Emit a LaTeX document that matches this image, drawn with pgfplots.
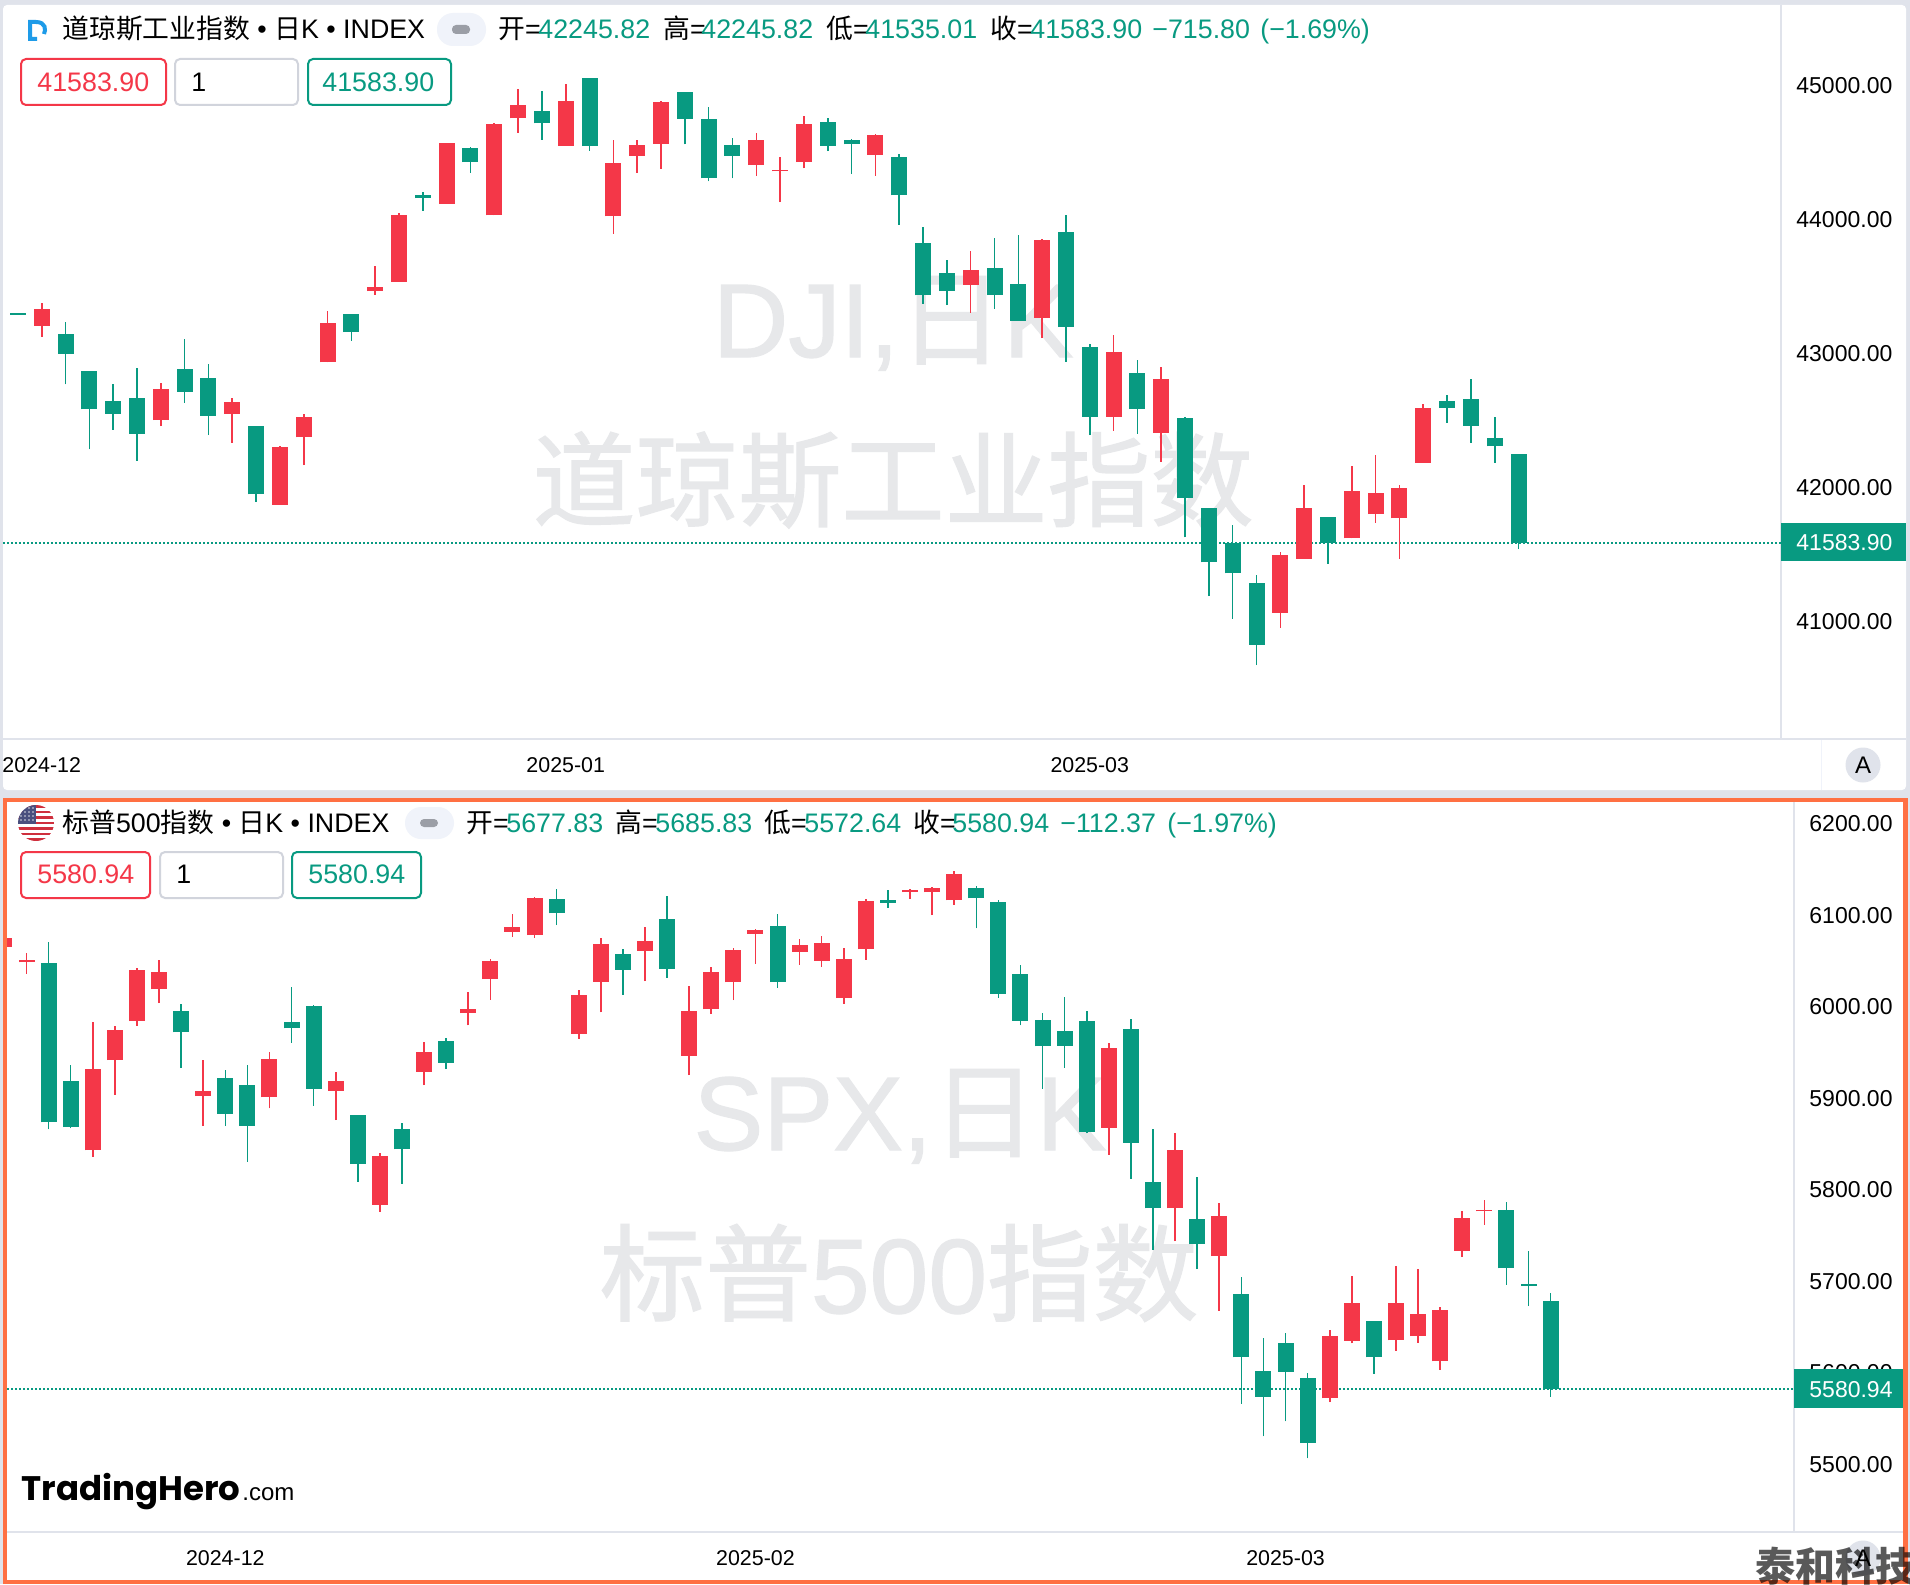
\documentclass[border=0pt]{standalone}
\usepackage{fontspec}
\usepackage{pgfplots}
\usepackage{pgfplotstable}
\pgfplotsset{compat=1.18}
\setmainfont{Liberation Sans}
\newfontfamily\cjk{Noto Sans CJK SC}
\newfontfamily\logofont{Poppins}
\newfontfamily\wm[FakeBold=1.2]{Liberation Sans}
\newfontfamily\wmcjk[FakeBold=1.2]{Noto Sans CJK SC}

\definecolor{cgreen}{HTML}{089A81}
\definecolor{cred}{HTML}{F43748}
\definecolor{paneline}{HTML}{E0E3EB}
\definecolor{boxgray}{HTML}{D1D4DC}
\definecolor{pillbg}{HTML}{F0F3FA}
\definecolor{pilldash}{HTML}{9B9EA6}
\definecolor{wmark}{HTML}{E7E8EA}
\definecolor{orangeb}{HTML}{FF7043}
\definecolor{dlogo}{HTML}{1E9BE8}
\definecolor{flagblue}{HTML}{4A4F7E}

% DJI: x open high low close
\pgfplotstableread{
x o h l c
0 43298 43298 43285 43285
2 43143 43231 42765 42994
3 42865 42865 42280 42579
4 42638 42768 42425 42546
5 42661 42885 42196 42395
7 42882 43101 42629 42711
8 42810 42915 42387 42531
10 42454 42454 41890 41944
14 43288 43288 43089 43156
17 44178 44203 44062 44156
19 44529 44539 44343 44425
22 44808 44955 44591 44713
24 45052 45052 44509 44544
28 44947 44947 44557 44748
29 44746 44833 44280 44303
30 44552 44601 44303 44470
34 44721 44753 44507 44547
35 44591 44596 44335 44557
37 44462 44484 43955 44176
38 43820 43940 43367 43430
39 43599 43693 43357 43462
41 43636 43858 43328 43432
42 43517 43880 43240 43240
44 43902 44029 42934 43193
45 43041 43064 42387 42524
47 42850 42947 42395 42581
49 42512 42524 41623 41914
50 41840 41840 41185 41437
51 41579 41715 41014 41355
52 41283 41345 40670 40820
55 41775 41775 41427 41583
60 42641 42683 42479 42591
61 42656 42805 42330 42457
62 42367 42524 42181 42303
63 42245.82 42245.82 41535.01 41583.90
}\djidown
\pgfplotstableread{
x o h l c
1 43203 43370 43121 43325
6 42499 42773 42454 42730
9 42546 42661 42330 42636
11 41865 42307 41865 42300
12 42370 42544 42163 42519
13 42929 43310 42929 43221
15 43462 43649 43435 43489
16 43532 44042 43532 44027
18 44114 44564 44114 44564
20 44027 44716 44027 44711
21 44751 44967 44644 44848
23 44547 45004 44547 44880
25 44019 44589 43890 44420
26 44470 44589 44345 44554
27 44562 44880 44375 44870
31 44402 44639 44323 44589
32 44355 44460 44126 44368
33 44425 44766 44378 44708
36 44480 44631 44323 44626
40 43509 43760 43298 43621
43 43263 43850 43111 43843
46 42524 43131 42419 43007
48 42405 42892 42188 42805
53 41061 41514 40947 41491
54 41464 42014 41464 41845
56 41616 42156 41616 41969
57 41797 42240 41733 41957
58 41765 42014 41462 41989
59 42181 42618 42181 42586
}\djiup
% SPX
\pgfplotstableread{
x o h l c
2 6047.3 6070.3 5865.1 5872.8
3 5918 5935.5 5866.2 5867.7
8 5994.1 6002.2 5932.2 5971.2
10 5921.3 5929.6 5868.8 5882.3
11 5913.6 5935.5 5829.8 5869.2
13 5982.5 6021.1 5959.9 5975.6
14 6000 6001.1 5891 5909.6
16 5880.4 5880.4 5807.9 5827.2
18 5865.1 5871.7 5805.7 5843.3
20 5962.1 5964.6 5931.1 5937.7
25 6116.6 6127.5 6088.5 6101.3
28 6056.8 6062.3 6012.4 6039.7
30 6095.1 6120.2 6030.9 6040.8
35 6087.1 6100.5 6020 6026.2
40 6115.5 6127.1 6107.5 6112.9
44 6129 6131.2 6084.9 6117.7
45 6114 6115.5 6009.1 6013.5
46 6034.6 6044.4 5978.8 5983.9
47 5984.7 5992.3 5909.6 5955.9
48 5973 6009.8 5932.6 5956.6
49 5983.6 5994.1 5860.8 5861.9
51 5974.8 5986.1 5811.2 5850.6
52 5807.2 5865.9 5733.2 5778.8
54 5766.8 5813 5712.5 5739.4
56 5684.8 5703.3 5565.2 5615.9
57 5601.3 5637 5529.5 5572.9
58 5631.2 5642.9 5545.9 5600.2
59 5592.9 5598.4 5505.5 5522.2
62 5655.3 5655.3 5598 5615.9
68 5776.6 5785.7 5695.3 5713.2
69 5695.7 5732.1 5672 5694.2
70 5677.83 5685.83 5572.64 5580.94
}\spxdown
\pgfplotstableread{
x o h l c
0 6064.1 6073.9 6061.2 6073.9
1 6047.7 6057.5 6035.3 6050.6
4 5842.2 5982.5 5835.3 5930.7
5 5940.9 5977.7 5903 5973.7
6 5983.6 6041.2 5978.5 6039.7
7 6018.2 6049.9 6003.2 6037.1
9 5901.6 5940.6 5869.2 5906.7
12 5900.1 5949.3 5888.1 5942.4
15 5907.4 5927.8 5875.3 5918.3
17 5782.8 5838.9 5775.1 5836
19 5928.2 5960.2 5913.6 5949.7
21 5992.3 6014.9 5978.8 5996.7
22 6029.5 6051.3 6006.9 6048.8
23 6081.2 6100.2 6075.8 6086
24 6077.6 6119.5 6074.7 6118.4
26 5969.4 6017.1 5964.3 6012
27 6026.6 6073.9 5993 6067.4
29 6060.5 6086.3 6027.3 6070.7
31 5945.7 6022.2 5924.5 5994.5
32 5996.3 6042.6 5991.6 6037.5
33 6025.8 6063 6006.5 6061.2
34 6079 6083.8 6046.2 6083.1
36 6059.4 6072.8 6045.2 6066.3
37 6049.5 6076.5 6043 6068.5
38 6008.7 6063 6002.2 6051.7
39 6061.9 6116.9 6050.3 6114.8
41 6124.6 6127.5 6117.3 6126.8
42 6124.2 6130.1 6099.4 6129.3
43 6115.5 6147.6 6110.7 6143.9
50 5867 5959.2 5837.5 5954.4
53 5778.8 5860.8 5743.1 5842.5
55 5726.7 5784.2 5666.9 5770.8
60 5571.1 5645.8 5567.1 5639.2
61 5634.1 5704.4 5631.2 5675.7
63 5634.5 5716.1 5623.2 5675.7
64 5639.2 5712.1 5631.9 5663.3
65 5611.5 5671.3 5602.4 5667.6
66 5732.5 5775.5 5725.9 5767.8
67 5775.5 5787.9 5760.9 5777
}\spxup

\pgfplotsset{
  candlepane/.style={
    scale only axis, anchor=south west,
    axis line style={draw=none}, tick style={draw=none}, major tick length=0pt,
    yticklabel pos=right, xtick pos=bottom, scaled ticks=false,
    xticklabel style={inner sep=0pt, yshift=-9pt, font=\fontsize{10.7pt}{12pt}\selectfont},
    yticklabel style={inner sep=0pt, xshift=7.5pt, yshift=-0.5pt, font=\fontsize{11.5pt}{13pt}\selectfont,
      /pgf/number format/fixed, /pgf/number format/zerofill,
      /pgf/number format/precision=2, /pgf/number format/1000 sep={},
      /pgf/number format/assume math mode=true},
  },
  wick/.style={draw=none, mark=none, error bars/.cd, y dir=plus, y explicit, error mark=none,
    error bar style={draw=#1, solid, line width=0.8pt}},
  body/.style={draw=none, mark=none, error bars/.cd, y dir=plus, y explicit, error mark=none,
    error bar style={draw=#1, solid, line width=8pt}},
}
% wicks first, then bodies
\newcommand{\candles}[2]{
  \addplot[wick=cgreen] table[x=x, y=l, y error plus expr=\thisrow{h}-\thisrow{l}] {#1};
  \addplot[wick=cred] table[x=x, y=l, y error plus expr=\thisrow{h}-\thisrow{l}] {#2};
  \addplot[body=cgreen] table[x=x, y=c, y error plus expr=\thisrow{o}-\thisrow{c}] {#1};
  \addplot[body=cred] table[x=x, y=o, y error plus expr=\thisrow{c}-\thisrow{o}] {#2};
}
\newcommand{\hdr}{\fontsize{13.4pt}{15pt}\selectfont}
\tikzset{
  t/.style={inner sep=0pt, anchor=base west, font=\hdr},
  g/.style={t, text=cgreen},
  pricebox/.style={rounded corners=2.5pt, line width=1pt, fill=white},
  lastline/.style={cgreen, line width=0.9pt, dash pattern=on 1.1pt off 0.9pt},
}

\begin{document}
\begin{tikzpicture}[x=0.5pt, y=-0.5pt]
\useasboundingbox (0,0) rectangle (1910,1584);
\clip (0,0) rectangle (1910,1584);
\fill[paneline] (0,0) rectangle (1910,1584);
% upper pane
\fill[white, rounded corners=2pt] (3,5) rectangle (1906,790);
\draw[paneline, line width=1pt] (3,739) -- (1906,739);
\draw[paneline, line width=1pt] (1781,5) -- (1781,739);
\draw[pillbg, line width=0.5pt] (1821,740) -- (1821,790);
\node[font=\fontsize{52.3pt}{55pt}\wm, text=wmark, anchor=base, inner sep=0pt] at (893,357) {DJI,{\wmcjk 日}K};
\node[font=\fontsize{51.5pt}{55pt}\wmcjk, text=wmark, anchor=center, inner sep=0pt] at (893,480) {道琼斯工业指数};
% lower pane
\fill[orangeb] (3,798) rectangle (1908,1584);
\fill[white] (7,802) rectangle (1903,1580);
\draw[paneline, line width=1pt] (7,1532) -- (1903,1532);
\draw[paneline, line width=1pt] (1794,802) -- (1794,1532);
\node[font=\fontsize{52.3pt}{55pt}\wm, text=wmark, anchor=base, inner sep=0pt] at (900,1150) {SPX,{\wmcjk 日}K};
\node[font=\fontsize{52.8pt}{55pt}\wm, text=wmark, anchor=base, inner sep=0pt] at (899,1313) {{\wmcjk 标普}500{\wmcjk 指数}};

\begin{axis}[candlepane, at={(1.5pt,-369.5pt)}, width=889pt, height=367pt,
  xmin=-0.626, xmax=74.02, ymin=40118, ymax=45597,
  xtick={1,23,45}, xticklabels={2024-12,2025-01,2025-03},
  ytick={41000,42000,43000,44000,45000}]
  \addplot[lastline] coordinates {(-0.626,41583.9) (74.02,41583.9)};
  \candles{\djidown}{\djiup}
\end{axis}

\begin{axis}[candlepane, at={(3.5pt,-766pt)}, width=893.5pt, height=365pt,
  xmin=0.117, xmax=81.02, ymin=5425, ymax=6223,
  xtick={10,34,58}, xticklabels={2024-12,2025-02,2025-03},
  ytick={5500,5600,5700,5800,5900,6000,6100,6200}]
  \addplot[lastline] coordinates {(0.117,5580.94) (81.02,5580.94)};
  \candles{\spxdown}{\spxup}
\end{axis}

% upper header
\draw[dlogo, line width=2pt] (37,39) -- (30,39) -- (30,22) -- (36,22) .. controls (46,22) and (46,30) .. (44,34);
\node[t] at (62,39) {{\cjk 道琼斯工业指数} • {\cjk 日}K • INDEX};
\fill[pillbg, rounded corners=8pt] (437,13) rectangle (486,46);
\fill[pilldash, rounded corners=2pt] (452,25) rectangle (470,34);
\node[t] at (498,39) {{\cjk 开}=}; \node[g] at (538,39) {42245.82};
\node[t] at (663,39) {{\cjk 高}=}; \node[g] at (701,39) {42245.82};
\node[t] at (826,39) {{\cjk 低}=}; \node[g] at (865,39) {41535.01};
\node[t] at (990,39) {{\cjk 收}=}; \node[g] at (1030,39) {41583.90};
\node[g] at (1152,39) {−715.80}; \node[g] at (1260,39) {(−1.69\%)};
\draw[pricebox, draw=cred] (21,59) rectangle (166,105);
\node[t, text=cred] at (37,91) {41583.90};
\draw[pricebox, draw=boxgray] (175,59) rectangle (298,105);
\node[t] at (191,91) {1};
\draw[pricebox, draw=cgreen] (308,59) rectangle (451,105);
\node[t, text=cgreen] at (322,91) {41583.90};
\fill[cgreen] (1781,523) rectangle (1906,561);
\node[t, text=white, font=\fontsize{11.5pt}{13pt}\selectfont] at (1796,550) {41583.90};
\fill[paneline] (1863,765) circle (17.5);
\node[inner sep=0pt, font=\fontsize{12pt}{13pt}\selectfont] at (1863,765) {A};

% lower header
\begin{scope}
  \clip (36,823) circle (18);
  \fill[white] (18,805) rectangle (54,841);
  \foreach \yy in {805,810.5,816,821.5,827,832.5,838} {\fill[cred!85!black] (18,\yy) rectangle (54,\yy+2.8);}
  \fill[flagblue] (18,805) rectangle (36,824);
  \foreach \xx in {21,25,29,33} \foreach \yy in {808,812,816,820} {\fill[white!80!flagblue] (\xx,\yy) circle (0.8);}
\end{scope}
\node[t] at (62,832) {{\cjk 标普}500{\cjk 指数} • {\cjk 日}K • INDEX};
\fill[pillbg, rounded corners=8pt] (405,807) rectangle (454,839);
\fill[pilldash, rounded corners=2pt] (420,819) rectangle (438,827);
\node[t] at (466,832) {{\cjk 开}=}; \node[g] at (506,832) {5677.83};
\node[t] at (615,832) {{\cjk 高}=}; \node[g] at (655,832) {5685.83};
\node[t] at (764,832) {{\cjk 低}=}; \node[g] at (804,832) {5572.64};
\node[t] at (913,832) {{\cjk 收}=}; \node[g] at (952,832) {5580.94};
\node[g] at (1060,832) {−112.37}; \node[g] at (1167,832) {(−1.97\%)};
\draw[pricebox, draw=cred] (21,852) rectangle (150,898);
\node[t, text=cred] at (37,883) {5580.94};
\draw[pricebox, draw=boxgray] (160,852) rectangle (283,898);
\node[t] at (176,883) {1};
\draw[pricebox, draw=cgreen] (292,852) rectangle (421,898);
\node[t, text=cgreen] at (308,883) {5580.94};
\fill[cgreen] (1794,1369) rectangle (1903,1408);
\node[t, text=white, font=\fontsize{11.5pt}{13pt}\selectfont] at (1809,1397) {5580.94};
\node[inner sep=0pt, anchor=base west, font=\fontsize{17pt}{19pt}\logofont\bfseries] at (21,1500) {TradingHero};
\node[inner sep=0pt, anchor=base west, font=\fontsize{12pt}{13pt}\selectfont] at (242,1500) {.com};
\fill[paneline] (1863,1558) circle (17.5);
\node[inner sep=0pt, font=\fontsize{12pt}{13pt}\selectfont] at (1863,1558) {A};
\node[inner sep=0pt, anchor=west, font=\fontsize{20pt}{21pt}\cjk\bfseries, text=black, text opacity=0.65] at (1755,1566) {泰和科技};
\end{tikzpicture}
\end{document}
